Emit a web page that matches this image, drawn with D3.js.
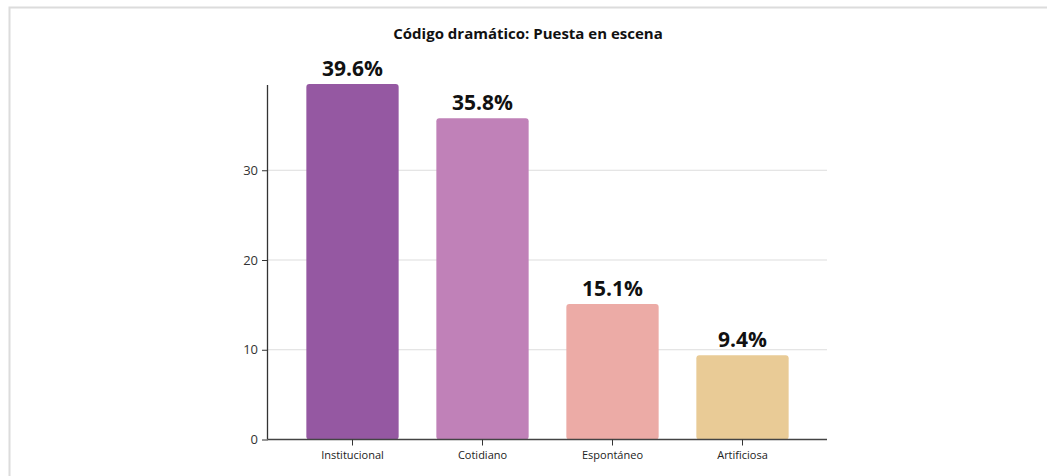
<!DOCTYPE html>
<html>
<head>
<meta charset="utf-8">
<script src="https://cdn.jsdelivr.net/npm/d3@7"></script>
<style>
  html, body { margin: 0; padding: 0; background: #fff; }
  svg { display: block; }
</style>
</head>
<body>
<svg id="chart" width="1047" height="476"></svg>
<script>
// Chart data
const categories = ["Institucional", "Cotidiano", "Espontáneo", "Artificiosa"];
const values = [39.6, 35.8, 15.1, 9.4];
const barColors = ["#9558a2", "#c081b8", "#ecaba6", "#e9cb96"];
const yTicks = [0, 10, 20, 30];
const yMax = 39.5;
const title = "Código dramático: Puesta en escena";

const svg = d3.select("#chart");
const W = 1047, H = 476;

// Light card frame
svg.append("path")
  .attr("d", `M9.5,${H} V7.5 H${W}`)
  .attr("fill", "none")
  .attr("stroke", "#dcdcdc")
  .attr("stroke-width", 2);

const plot = { left: 268, right: 827, top: 85, bottom: 439.5 };

const x = d3.scaleBand()
  .domain(categories)
  .range([plot.left, plot.right])
  .paddingInner(0.29)
  .paddingOuter(0.295);

const y = d3.scaleLinear()
  .domain([0, yMax])
  .range([plot.bottom, plot.top]);

// Gridlines
svg.append("g")
  .selectAll("line")
  .data(yTicks.filter(d => d > 0))
  .join("line")
  .attr("x1", plot.left)
  .attr("x2", plot.right)
  .attr("y1", d => y(d))
  .attr("y2", d => y(d))
  .attr("stroke", "#dddddd")
  .attr("stroke-width", 1);

// Bars
svg.append("g")
  .selectAll("rect")
  .data(categories)
  .join("rect")
  .attr("x", d => x(d))
  .attr("width", x.bandwidth())
  .attr("y", (d, i) => y(values[i]))
  .attr("height", (d, i) => y(0) - y(values[i]))
  .attr("rx", 3)
  .attr("fill", (d, i) => barColors[i]);

// Value labels
svg.append("g")
  .selectAll("text")
  .data(categories)
  .join("text")
  .attr("x", d => x(d) + x.bandwidth() / 2)
  .attr("y", (d, i) => y(values[i]) - 8)
  .attr("text-anchor", "middle")
  .attr("font-family", "'Open Sans', sans-serif")
  .attr("font-weight", 700)
  .attr("font-size", 21)
  .attr("fill", "#111")
  .text((d, i) => values[i].toFixed(1) + "%");

// Y axis
const yAxis = d3.axisLeft(y).tickValues(yTicks).tickSize(6).tickPadding(4);
const gy = svg.append("g")
  .attr("transform", `translate(${plot.left},0)`)
  .call(yAxis);
gy.select(".domain").attr("stroke", "#333").attr("stroke-width", 1.3)
  .attr("d", `M-0.5,${plot.top}V${plot.bottom}`);
gy.selectAll(".tick line").attr("stroke", "#333");
gy.selectAll(".tick text")
  .attr("font-family", "'Open Sans', sans-serif")
  .attr("font-size", 13)
  .attr("fill", "#333");

// X axis
const xAxis = d3.axisBottom(x).tickSize(6).tickPadding(6);
const gx = svg.append("g")
  .attr("transform", `translate(0,${plot.bottom})`)
  .call(xAxis);
gx.select(".domain").attr("stroke", "#444").attr("stroke-width", 1.5)
  .attr("d", `M${plot.left},0H${plot.right}`);
gx.selectAll(".tick line").attr("stroke", "#333");
gx.selectAll(".tick text")
  .attr("font-family", "'Open Sans', sans-serif")
  .attr("font-size", 11)
  .attr("fill", "#222");

// Title
svg.append("text")
  .attr("x", 528)
  .attr("y", 39)
  .attr("text-anchor", "middle")
  .attr("font-family", "'Open Sans', sans-serif")
  .attr("font-weight", 700)
  .attr("font-size", 15)
  .attr("fill", "#111")
  .text(title);
</script>
</body>
</html>
